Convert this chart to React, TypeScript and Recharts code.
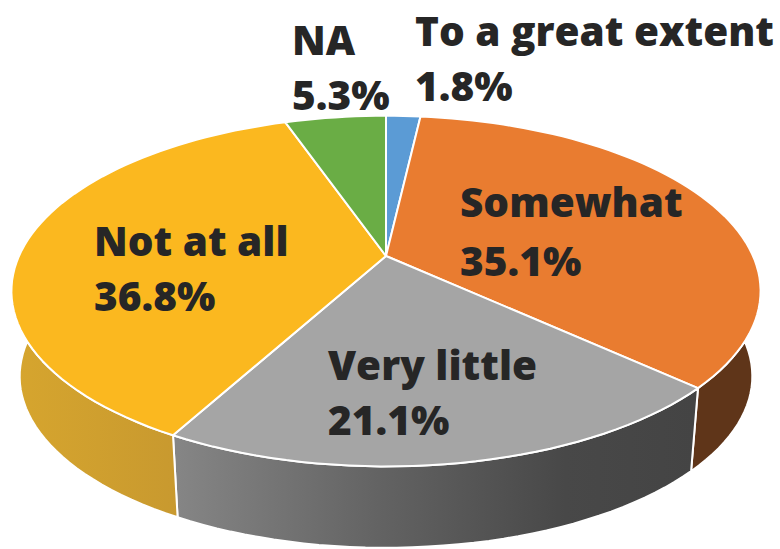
import { PieChart, Pie } from 'recharts';

const categories = ['To a great extent', 'Somewhat', 'Very little', 'Not at all', 'NA'];
const shares = [1.8, 35.1, 21.1, 36.8, 5.3];
const topColors = ['#5b9bd5', '#e97c30', '#a5a5a5', '#fbb81f', '#6aad45'];
const sideColors = ['#3a5f82', '#5f3519', 'url(#sideGray)', 'url(#sideGold)', '#44692a'];

// left edge and the two baselines of each label
const labelSpots = [
  { x: 415, y1: 46, y2: 101 },
  { x: 460, y1: 217, y2: 276 },
  { x: 328, y1: 380, y2: 435 },
  { x: 94, y1: 256, y2: 311 },
  { x: 292, y1: 55, y2: 110 },
];

const rows = categories.map((name, i) => ({ name, value: shares[i] }));

const TILT = 0.4586;
const PERSPECTIVE = 0.2;

// lower rim of the disc, relative to the upper face
const RIM_DROP = 86;
const RIM_SCALE = 0.978;

function project(cx: number, cy: number, r: number, deg: number) {
  const a = (deg * Math.PI) / 180;
  const u = Math.cos(a);
  const v = Math.sin(a);
  const s = 1 / (1 + PERSPECTIVE * v);
  return [cx + r * u * s, cy - TILT * r * v * s];
}

function arc(cx: number, cy: number, r: number, from: number, to: number) {
  const steps = Math.max(2, Math.ceil(Math.abs(to - from) / 2));
  const pts = [];
  for (let i = 0; i <= steps; i++) {
    pts.push(project(cx, cy, r, from + ((to - from) * i) / steps));
  }
  return pts;
}

const toPath = (pts: number[][]) =>
  'M' + pts.map((p) => `${p[0].toFixed(1)},${p[1].toFixed(1)}`).join('L') + 'Z';

function TopFace(props: any) {
  const { cx, cy, outerRadius, startAngle, endAngle, index } = props;
  const pts = [[cx, cy], ...arc(cx, cy, outerRadius, startAngle, endAngle)];
  return <path d={toPath(pts)} fill={topColors[index]} stroke="#fff" strokeWidth={2} strokeLinejoin="round" />;
}

function SideWall(props: any) {
  const { cx, cy, outerRadius, startAngle, endAngle, index } = props;
  const upper = arc(cx, cy, outerRadius, startAngle, endAngle);
  const lower = arc(cx, cy + RIM_DROP, outerRadius * RIM_SCALE, endAngle, startAngle);
  return <path d={toPath([...upper, ...lower])} fill={sideColors[index]} stroke="#fff" strokeWidth={2} strokeLinejoin="round" />;
}

function SliceLabel(props: any) {
  const { index, name, value } = props;
  const spot = labelSpots[index];
  const style = { fontFamily: '"Open Sans", sans-serif', fontWeight: 800, fontSize: 40.5, fill: '#262626' };
  return (
    <g>
      <text x={spot.x} y={spot.y1} style={style}>{name}</text>
      <text x={spot.x} y={spot.y2} style={style}>{value.toFixed(1)}%</text>
    </g>
  );
}

export default function App() {
  return (
    <div style={{ position: 'absolute', left: 0, top: 0, width: 780, height: 549, background: '#fff' }}>
      <PieChart width={780} height={549} margin={{ top: 0, right: 0, bottom: 0, left: 0 }}>
        <defs>
          <linearGradient id="sideGray" gradientUnits="userSpaceOnUse" x1="178" y1="0" x2="694" y2="0">
            <stop offset="0" stopColor="#858585" />
            <stop offset="0.4" stopColor="#626262" />
            <stop offset="0.75" stopColor="#484848" />
            <stop offset="1" stopColor="#444444" />
          </linearGradient>
          <linearGradient id="sideGold" gradientUnits="userSpaceOnUse" x1="17" y1="0" x2="180" y2="0">
            <stop offset="0" stopColor="#d6a52e" />
            <stop offset="1" stopColor="#c8992f" />
          </linearGradient>
        </defs>
        <Pie
          data={rows}
          dataKey="value"
          nameKey="name"
          cx={386}
          cy={256}
          outerRadius={367}
          startAngle={90}
          endAngle={-270}
          shape={SideWall}
          isAnimationActive={false}
        />
        <Pie
          data={rows}
          dataKey="value"
          nameKey="name"
          cx={386}
          cy={256}
          outerRadius={367}
          startAngle={90}
          endAngle={-270}
          shape={TopFace}
          label={SliceLabel}
          labelLine={false}
          isAnimationActive={false}
        />
      </PieChart>
    </div>
  );
}
